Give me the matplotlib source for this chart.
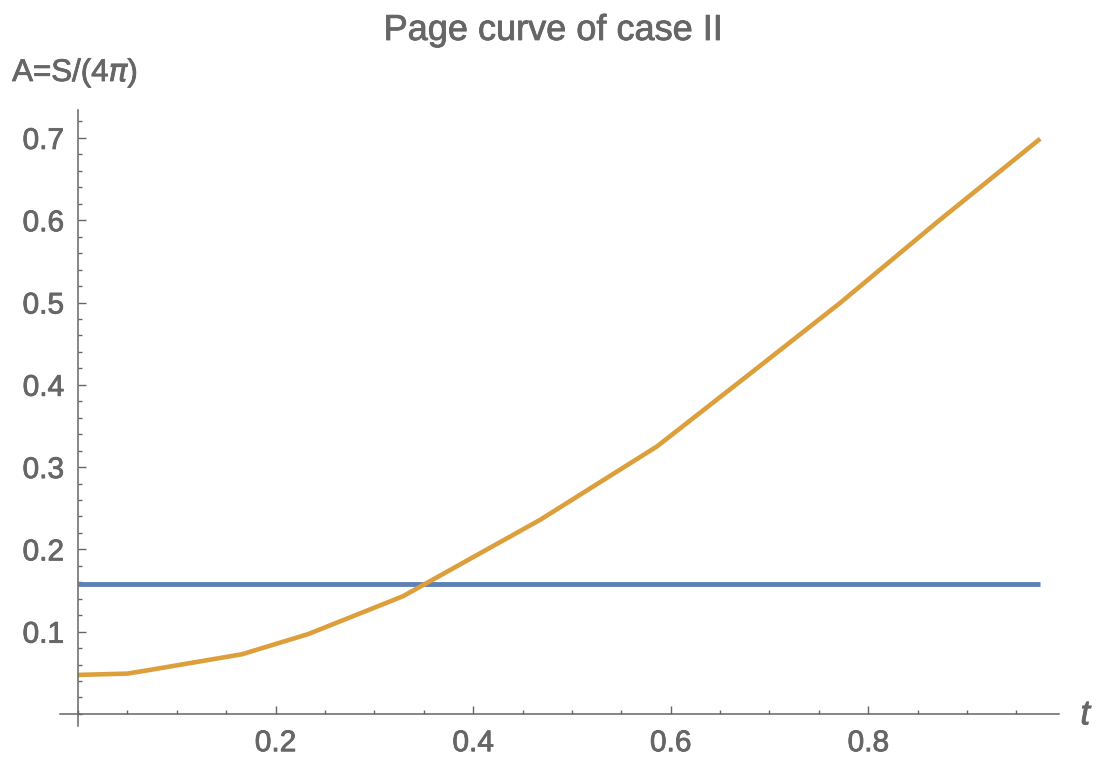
import matplotlib
matplotlib.use("Agg")
import matplotlib.pyplot as plt
import matplotlib.patheffects as pe
from matplotlib.ticker import MultipleLocator, FixedLocator

# data
t_vals = [0.0, 0.05, 0.073, 0.166, 0.233, 0.329, 0.468, 0.586, 0.683, 0.771, 0.87, 0.974]
area_vals = [0.0474, 0.049, 0.0535, 0.0725, 0.097, 0.143, 0.236, 0.325, 0.416, 0.499, 0.598, 0.699]
const_t = [0.0, 0.974]
const_area = [0.158, 0.158]
x_ticks = [0.2, 0.4, 0.6, 0.8]
y_ticks = [0.1, 0.2, 0.3, 0.4, 0.5, 0.6, 0.7]

gray = "#666666"
blue = "#5E81B5"
orange = "#DC9F3C"

plt.rcParams['font.family'] = ['Liberation Sans', 'DejaVu Sans']
heavy = [pe.withStroke(linewidth=0.6, foreground=gray)]   # slightly heavier text, like the original

fig = plt.figure(figsize=(11.04, 7.62), dpi=100)
ax = fig.add_axes([0.0545, 0.0469, 0.9047, 0.8088])

ax.plot(const_t, const_area, color=blue, lw=3.5, solid_capstyle='butt')
ax.plot(t_vals, area_vals, color=orange, lw=3.3, solid_capstyle='butt')

ax.set_xlim(-0.018, 0.993)
ax.set_ylim(-0.015, 0.734)

for s in ['top', 'right']:
    ax.spines[s].set_visible(False)
for s in ['left', 'bottom']:
    ax.spines[s].set_position(('data', 0))
    ax.spines[s].set_color(gray)
    ax.spines[s].set_linewidth(1.1)

ax.xaxis.set_major_locator(FixedLocator(x_ticks))
ax.yaxis.set_major_locator(FixedLocator(y_ticks))
ax.xaxis.set_minor_locator(MultipleLocator(0.05))
ax.yaxis.set_minor_locator(MultipleLocator(0.02))
ax.tick_params(which='both', direction='in', color=gray, labelcolor=gray,
               labelsize=21.5, width=1.0)
ax.tick_params(which='major', length=5.5)
ax.tick_params(which='minor', length=3.2)
ax.tick_params(axis='x', which='major', pad=11)
ax.tick_params(axis='y', which='major', pad=10)
for lab in ax.get_xticklabels() + ax.get_yticklabels():
    lab.set_path_effects(heavy)

fig.text(0.501, 0.960, "Page curve of case II", ha='center', va='center',
         fontsize=26, color=gray, path_effects=heavy)
fig.text(0.011, 0.904, r"A=S/(4$\mathit{\pi}$)", ha='left', va='center',
         fontsize=22.5, color=gray, path_effects=heavy)
fig.text(0.983, 0.062, "t", ha='center', va='center', fontsize=25,
         color=gray, style='italic', path_effects=heavy)

fig.savefig("out.png", dpi=100)
